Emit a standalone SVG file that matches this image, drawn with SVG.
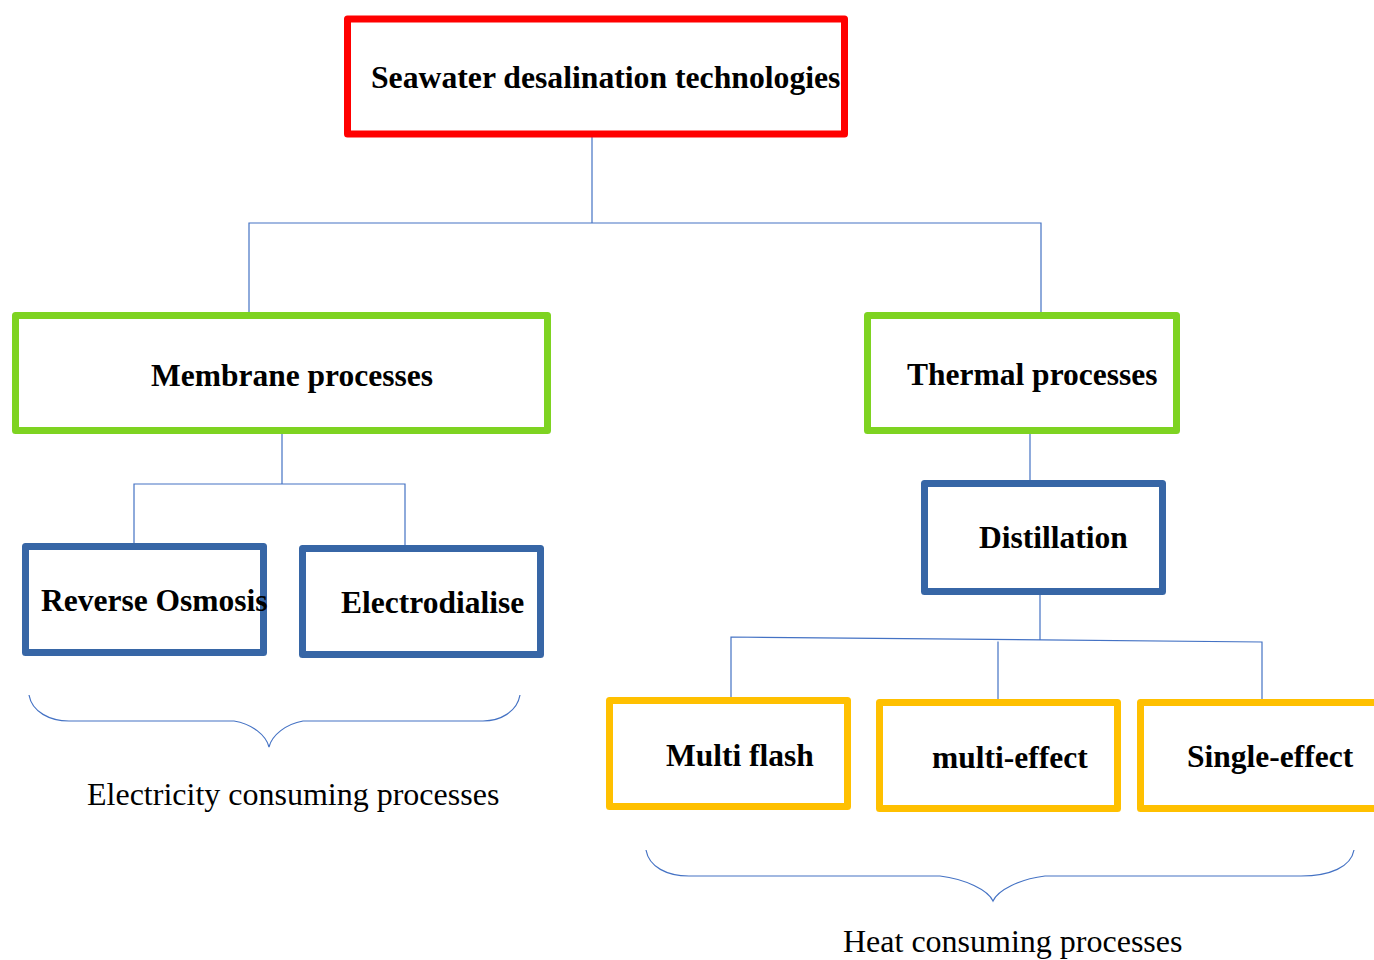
<svg xmlns="http://www.w3.org/2000/svg" width="1374" height="960" viewBox="0 0 1374 960">
<style>
.box{fill:#fff;stroke-width:7;stroke-linejoin:round}
.red{stroke:#FF0000}
.green{stroke:#7ED321}
.blue{stroke:#3766A6}
.gold{stroke:#FFC000}
.lbl{font-family:"Liberation Serif","Times New Roman",serif;font-weight:bold;font-size:31.5px;fill:#000}
.cap{font-family:"Liberation Serif","Times New Roman",serif;font-size:32px;fill:#000}
.con{fill:none;stroke:#4472C4;stroke-width:1.2}
</style>
<rect width="1374" height="960" fill="#fff"/>
<g id="connectors">
<path class="con" d="M592,137V223M249,313V223H1041V313"/>
<path class="con" d="M282,434V484M134,544V484H405V545"/>
<path class="con" d="M1030,434V480"/>
<path class="con" d="M1040,595V640M731,697V637L1262,642V699M998,699V641.5"/>
<path class="con" d="M29,695C32,712 50,721 69,721L234,721C252,724 266,735 269,747C272,735 286,724 303,721L483,721C500,721 517,712 520,695"/>
<path class="con" d="M646,850C649,867 667,876 689,876L940,876C965,879 988,890 993,901C998,890 1020,879 1045,876L1301,876C1330,876 1351,867 1354,850"/>
</g>
<g id="seawater">
<rect class="box red" x="347.5" y="19" width="497" height="115"/>
<text class="lbl" x="371" y="88" style="font-size:31.7px">Seawater desalination technologies</text>
</g>
<g id="membrane">
<rect class="box green" x="15.5" y="315.5" width="532" height="115"/>
<text class="lbl" x="151" y="386">Membrane processes</text>
</g>
<g id="thermal">
<rect class="box green" x="867.5" y="315.5" width="309" height="115"/>
<text class="lbl" x="907" y="385">Thermal processes</text>
</g>
<g id="reverse-osmosis">
<rect class="box blue" x="25.5" y="546.5" width="238" height="106"/>
<text class="lbl" x="41" y="611">Reverse Osmosis</text>
</g>
<g id="electrodialise">
<rect class="box blue" x="302.5" y="548.5" width="238" height="106"/>
<text class="lbl" x="341" y="613">Electrodialise</text>
</g>
<g id="distillation">
<rect class="box blue" x="924.5" y="483.5" width="238" height="108"/>
<text class="lbl" x="979" y="548">Distillation</text>
</g>
<g id="multi-flash">
<rect class="box gold" x="609.5" y="700.5" width="238" height="106"/>
<text class="lbl" x="666" y="766">Multi flash</text>
</g>
<g id="multi-effect">
<rect class="box gold" x="879.5" y="702.5" width="238" height="106"/>
<text class="lbl" x="932" y="768">multi-effect</text>
</g>
<g id="single-effect">
<rect class="box gold" x="1140.5" y="702.5" width="245" height="106"/>
<text class="lbl" x="1187" y="767">Single-effect</text>
</g>
<g id="captions">
<text class="cap" x="87" y="805">Electricity consuming processes</text>
<text class="cap" x="843" y="952">Heat consuming processes</text>
</g>
</svg>
